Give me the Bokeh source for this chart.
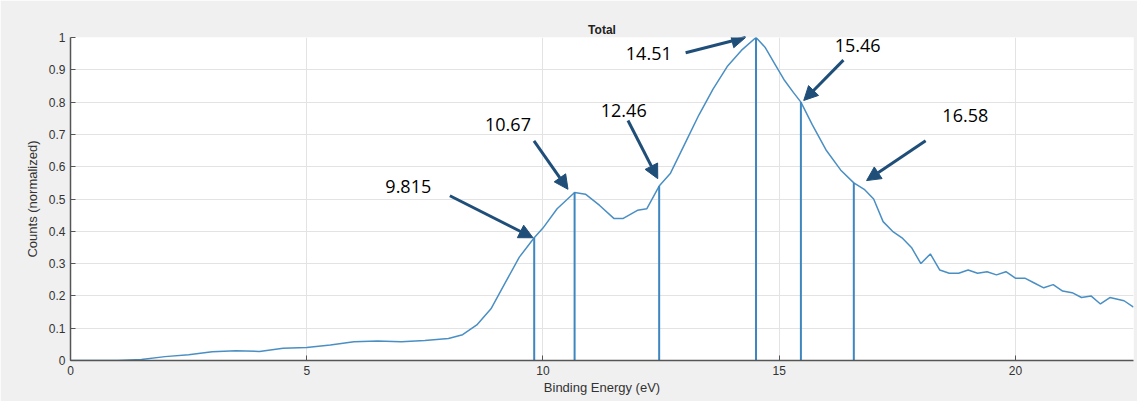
from bokeh.plotting import figure
from bokeh.models import Arrow, NormalHead, Range1d, FixedTicker, LabelSet, ColumnDataSource
from bokeh.embed import file_html
from bokeh.resources import INLINE
from bokeh.core.properties import value

energy = [0, 1, 1.5, 2, 2.5, 3, 3.5, 4, 4.5, 5, 5.5, 6, 6.5, 7, 7.5, 8, 8.3, 8.6, 8.9, 9.2, 9.5, 9.815,
          10.0, 10.3, 10.67, 10.9, 11.2, 11.5, 11.7, 12.0, 12.2, 12.46, 12.7, 13.0, 13.3, 13.6, 13.9, 14.2,
          14.51, 14.7, 14.9, 15.1, 15.3, 15.46, 15.7, 16.0, 16.3, 16.58, 16.8, 17.0, 17.2, 17.4, 17.6, 17.8,
          18.0, 18.2, 18.4, 18.6, 18.8, 19.0, 19.2, 19.4, 19.6, 19.8, 20.0, 20.2, 20.4, 20.6, 20.8, 21.0,
          21.2, 21.4, 21.6, 21.8, 22.0, 22.3, 22.5]
counts = [0.0, 0.0, 0.003, 0.012, 0.018, 0.027, 0.03, 0.028, 0.038, 0.04, 0.048, 0.058, 0.06, 0.058, 0.062,
          0.068, 0.08, 0.11, 0.16, 0.24, 0.32, 0.38, 0.41, 0.47, 0.52, 0.515, 0.48, 0.44, 0.44, 0.465, 0.47,
          0.54, 0.58, 0.67, 0.76, 0.84, 0.91, 0.96, 1.0, 0.97, 0.92, 0.87, 0.83, 0.80, 0.73, 0.65, 0.59, 0.55,
          0.53, 0.50, 0.43, 0.40, 0.38, 0.35, 0.30, 0.33, 0.28, 0.27, 0.27, 0.28, 0.27, 0.275, 0.265, 0.275,
          0.255, 0.255, 0.24, 0.225, 0.235, 0.215, 0.21, 0.195, 0.2, 0.175, 0.195, 0.185, 0.165]

peak_x = [9.815, 10.67, 12.46, 14.51, 15.46, 16.58]
peak_y = [0.38, 0.52, 0.54, 1.0, 0.80, 0.55]
labels = ["9.815", "10.67", "12.46", "14.51", "15.46", "16.58"]
label_x = [7.15, 9.26, 11.71, 12.24, 16.66, 18.94]
label_y = [0.54, 0.73, 0.775, 0.95, 0.975, 0.76]
arrow_start_x = [8.03, 9.81, 11.8, 13.02, 16.36, 18.1]
arrow_start_y = [0.51, 0.68, 0.743, 0.953, 0.93, 0.68]
arrow_end_x = [9.79, 10.53, 12.43, 14.29, 15.52, 16.85]
arrow_end_y = [0.38, 0.53, 0.563, 1.0, 0.805, 0.557]

p = figure(width=1137, height=401, output_backend="svg", toolbar_location=None,
           x_range=Range1d(0, 22.5), y_range=Range1d(0, 1),
           title="Total", min_border_left=70, min_border_right=4, min_border_top=37, min_border_bottom=41)
p.border_fill_color = "#f0f0f0"
p.background_fill_color = "white"
p.outline_line_color = None
p.title.align = "center"
p.title.text_font = "Liberation Sans"
p.title.text_font_size = "12px"
p.title.text_font_style = "bold"
p.title.text_color = "#222222"
p.title.standoff = 2

p.xaxis.ticker = FixedTicker(ticks=[0, 5, 10, 15, 20])
p.yaxis.ticker = FixedTicker(ticks=[i / 10 for i in range(11)])
p.yaxis.formatter.use_scientific = False
for ax in (p.xaxis, p.yaxis):
    ax.major_tick_in = 5
    ax.major_tick_out = 0
    ax.minor_tick_line_color = None
    ax.axis_line_color = "#555555"
    ax.axis_line_width = 1.5
    ax.major_tick_line_color = "#555555"
    ax.major_label_text_font = "Liberation Sans"
    ax.major_label_text_font_size = "12px"
    ax.major_label_text_color = "#333333"
    ax.axis_label_text_font = "Liberation Sans"
    ax.axis_label_text_font_size = "13px"
    ax.axis_label_text_font_style = "normal"
    ax.axis_label_text_color = "#333333"
p.xaxis.axis_label = "Binding Energy (eV)"
p.yaxis.axis_label = "Counts (normalized)"
p.xaxis.axis_label_standoff = 2
p.yaxis.axis_label_standoff = 6
p.grid.grid_line_color = "#e3e3e3"

p.line(energy, counts, line_color="#4a8fc4", line_width=1.5)
p.segment(x0=peak_x, y0=[0] * len(peak_x), x1=peak_x, y1=peak_y, line_color="#3d86bf", line_width=2)

for sx, sy, ex, ey in zip(arrow_start_x, arrow_start_y, arrow_end_x, arrow_end_y):
    p.add_layout(Arrow(end=NormalHead(size=14, fill_color="#1f4e79", line_color="#1f4e79"),
                       x_start=sx, y_start=sy, x_end=ex, y_end=ey,
                       line_color="#1f4e79", line_width=3))

src = ColumnDataSource(dict(x=label_x, y=label_y, t=labels))
p.add_layout(LabelSet(x="x", y="y", text="t", source=src, text_font=value("Open Sans"),
                      text_font_size="18px", text_align="center", text_baseline="middle",
                      text_color="black"))

open("out.html", "w").write(file_html(p, INLINE))
